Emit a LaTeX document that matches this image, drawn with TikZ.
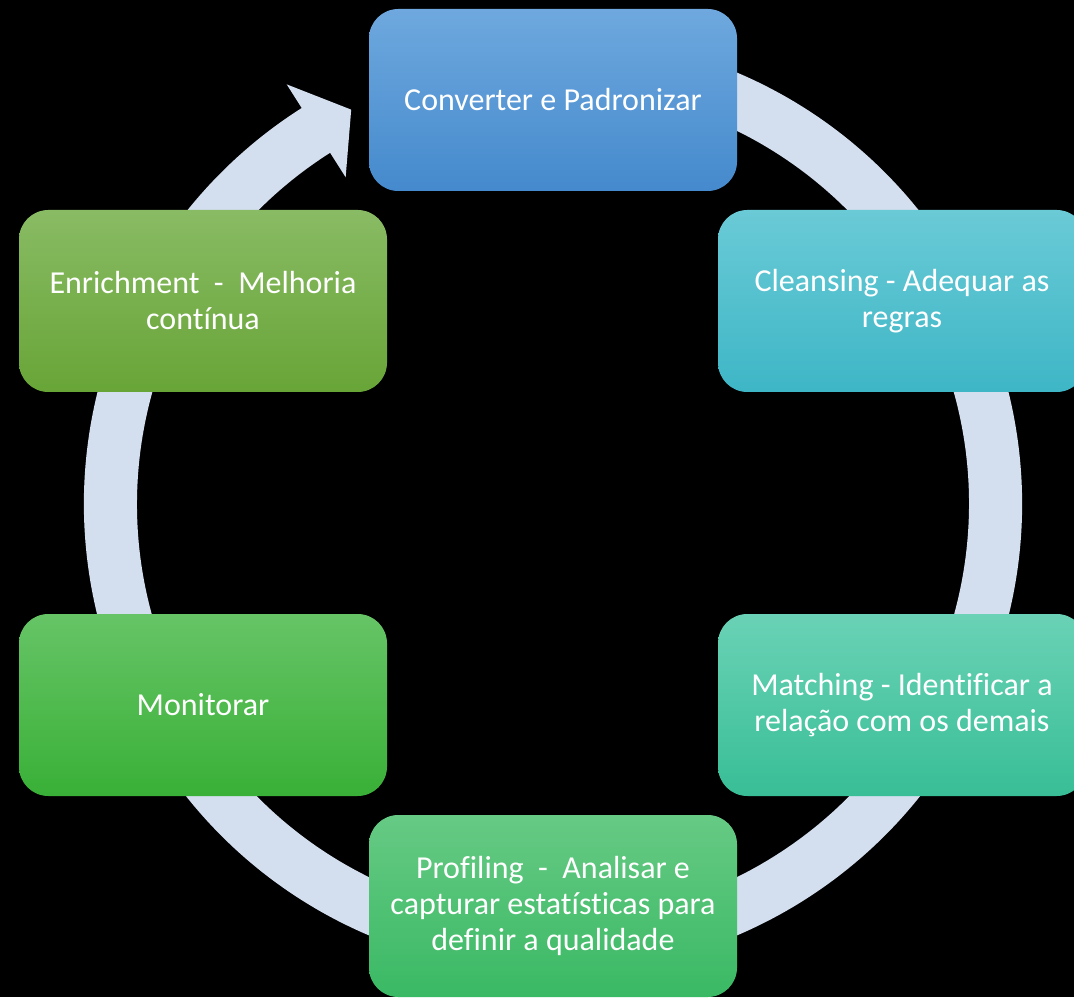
\documentclass[tikz,border=0pt]{standalone}
\usepackage{fontspec}
\setmainfont{Carlito}[Ligatures=NoCommon]
\definecolor{ringc}{RGB}{211,222,239}
\definecolor{bluetop}{RGB}{110,168,222}
\definecolor{bluebot}{RGB}{69,138,205}
\definecolor{cyantop}{RGB}{106,202,214}
\definecolor{cyanbot}{RGB}{62,182,198}
\definecolor{teatop}{RGB}{106,210,182}
\definecolor{teabot}{RGB}{56,190,150}
\definecolor{grntop}{RGB}{102,202,132}
\definecolor{grnbot}{RGB}{58,185,100}
\definecolor{montop}{RGB}{102,196,102}
\definecolor{monbot}{RGB}{57,176,55}
\definecolor{olvtop}{RGB}{137,187,100}
\definecolor{olvbot}{RGB}{104,165,55}
\tikzset{
  stage/.style={rounded corners=22pt, minimum width=276pt, minimum height=136.5pt,
    inner sep=0pt, align=center, text=white, font=\fontsize{24}{27}\selectfont},
}
\begin{document}
\begin{tikzpicture}[x=0.75pt,y=0.75pt]
\useasboundingbox (0,0) rectangle (1074,997);
\clip (0,0) rectangle (1074,997);
\fill[black] (0,0) rectangle (1074,997);
\begin{scope}[shift={(553,493)}]
\fill[ringc] (70:469) arc[start angle=70,end angle=-237.6,radius=469]
  -- (-237.6:497) -- (-242.9:443) -- (-237.6:387) -- (-237.6:416)
  arc[start angle=-237.6,end angle=70,radius=416] -- cycle;
\end{scope}
\node[stage, shading=axis, top color=bluetop, bottom color=bluebot] (conv) at (553,897) {Converter e Padronizar};
\node[stage, shading=axis, top color=cyantop, bottom color=cyanbot] (clean) at (902,696) {Cleansing - Adequar as\\regras};
\node[stage, shading=axis, top color=teatop, bottom color=teabot] (match) at (902,292) {Matching - Identificar a\\relação com os demais};
\node[stage, shading=axis, top color=grntop, bottom color=grnbot] (prof) at (553,91) {Profiling\ \ -\ \ Analisar e\\capturar estatísticas para\\definir a qualidade};
\node[stage, shading=axis, top color=montop, bottom color=monbot] (mon) at (203,292) {Monitorar};
\node[stage, shading=axis, top color=olvtop, bottom color=olvbot] (enr) at (203,696) {Enrichment\ \ -\ \ Melhoria\\contínua};
\end{tikzpicture}
\end{document}
